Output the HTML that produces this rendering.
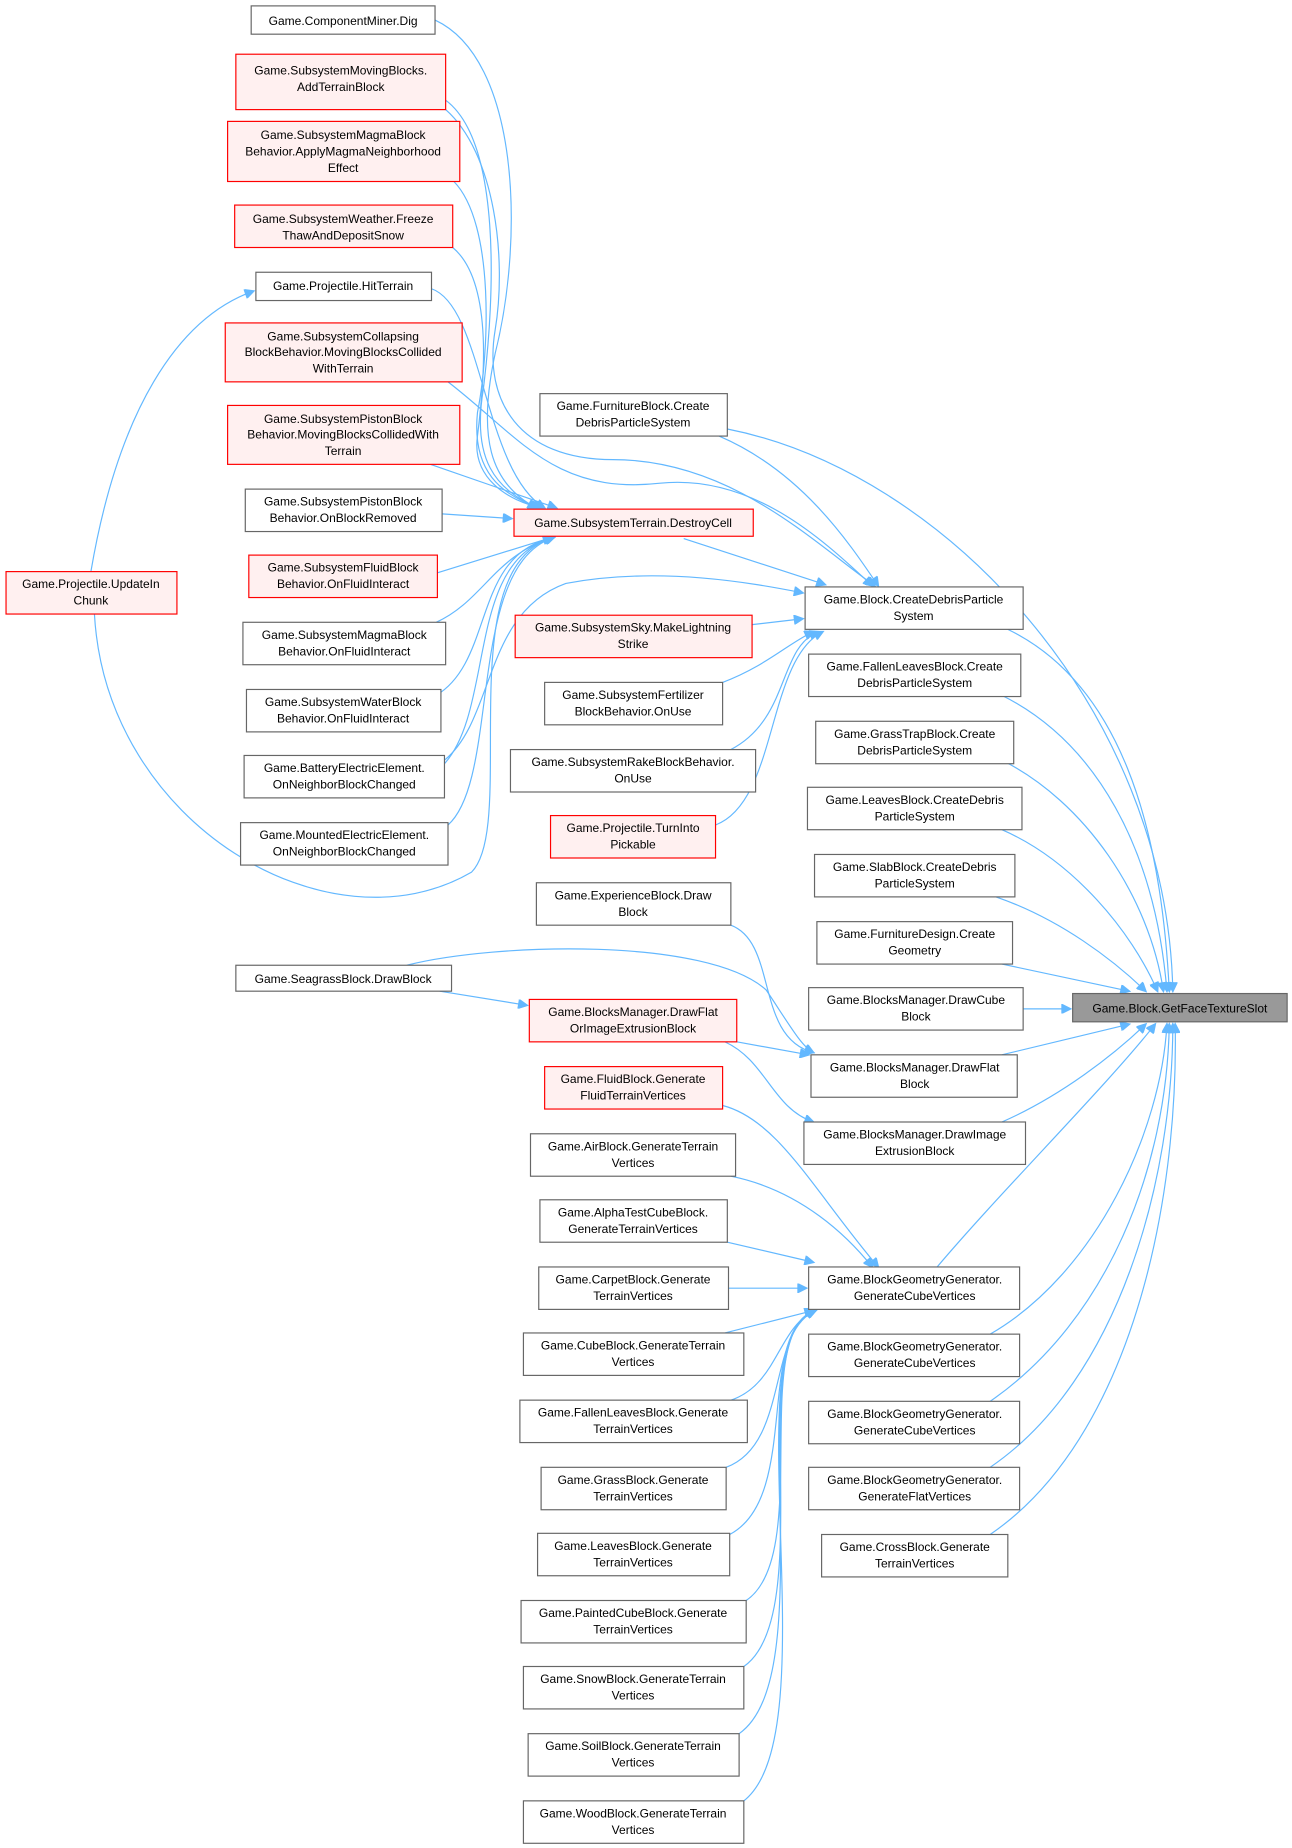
<!DOCTYPE html>
<html><head><meta charset="utf-8"><style>
html,body{margin:0;padding:0;background:#fff;}
svg{display:block;}
text{font-family:"Liberation Sans",sans-serif;font-size:10.2px;fill:#000;text-anchor:middle;}
.g{fill:#fff;stroke:#666;stroke-width:1;}
.r{fill:#fff0f0;stroke:#f00;stroke-width:1;}
.t{fill:#999;stroke:#666;stroke-width:1;}
path.e{fill:none;stroke:#63b8ff;stroke-width:1;}
</style></head><body>
<svg width="1292" height="1848" viewBox="0 0 1096 1568" xmlns="http://www.w3.org/2000/svg">
<defs><marker id="a" viewBox="0 0 10 10" refX="9" refY="5" markerWidth="10" markerHeight="8" markerUnits="userSpaceOnUse" orient="auto"><path d="M0,0 L10,5 L0,10 z" fill="#63b8ff" stroke="#63b8ff"/></marker></defs>
<g marker-end="url(#a)">
<!-- to target -->
<path class="e" d="M617,364 C800,400 990,600 995,841"/>
<path class="e" d="M855,534 C950,580 985,700 992,841"/>
<path class="e" d="M850,590 C930,630 980,720 990,841"/>
<path class="e" d="M850,645 C920,680 975,760 987,841"/>
<path class="e" d="M850,704 C910,730 960,790 982,841"/>
<path class="e" d="M845,761 C900,780 945,815 972,841"/>
<path class="e" d="M850,818 L958,841"/>
<path class="e" d="M868,856 L908,856"/>
<path class="e" d="M850,895 L958,869"/>
<path class="e" d="M850,952 C900,930 945,895 972,869"/>
<path class="e" d="M795,1075 C850,1010 940,920 980,869"/>
<path class="e" d="M840,1132 C930,1080 985,960 990,869"/>
<path class="e" d="M840,1189 C940,1120 990,990 992,869"/>
<path class="e" d="M840,1245 C950,1170 995,1000 995,869"/>
<path class="e" d="M840,1302 C960,1220 1000,1020 997,869"/>
<!-- to CreateDebris -->
<path class="e" d="M610,370 C680,400 720,460 745,497"/>
<path class="e" d="M580,457 L700,496"/>
<path class="e" d="M380,324 C440,370 470,420 560,410 C640,402 700,460 740,497"/>
<path class="e" d="M378,93 C420,130 430,220 420,280 C410,340 440,390 520,390 C620,390 690,460 742,497"/>
<path class="e" d="M377,645 C420,610 410,520 480,495 C560,480 640,495 681,503"/>
<path class="e" d="M638,530 L681,525"/>
<path class="e" d="M613,579 C650,565 670,545 690,536"/>
<path class="e" d="M620,636 C670,610 660,550 694,536"/>
<path class="e" d="M607,700 C660,680 650,560 698,536"/>
<!-- to DestroyCell -->
<path class="e" d="M369,17 C440,50 445,200 420,300 C405,370 415,410 455,431"/>
<path class="e" d="M378,85 C425,120 420,250 410,330 C400,390 420,415 456,431"/>
<path class="e" d="M385,154 C420,190 415,300 405,350 C400,400 425,420 458,431"/>
<path class="e" d="M384,210 C420,240 410,330 405,370 C400,405 430,425 460,431"/>
<path class="e" d="M366,245 C410,260 410,400 462,431"/>
<path class="e" d="M365,394 L472,431"/>
<path class="e" d="M375,436 L434,440"/>
<path class="e" d="M371,486 L468,456"/>
<path class="e" d="M370,528 C410,510 420,470 470,456"/>
<path class="e" d="M370,590 C420,560 400,470 470,456"/>
<path class="e" d="M377,648 C420,600 395,475 470,456"/>
<path class="e" d="M380,700 C425,660 395,480 470,456"/>
<path class="e" d="M80,521 C90,700 280,810 400,740 C440,700 380,480 470,456"/>
<path class="e" d="M77,485 C100,350 150,270 215,247"/>
<!-- draw block region -->
<path class="e" d="M373,841 L447,853"/>
<path class="e" d="M345,819 C420,800 600,795 650,840 C670,870 680,888 690,893"/>
<path class="e" d="M620,785 C660,800 640,880 690,893"/>
<path class="e" d="M625,884 L686,895"/>
<path class="e" d="M615,884 C650,900 655,940 690,952"/>
<!-- to GenerateCube1 -->
<path class="e" d="M613,938 C660,950 690,1010 745,1075"/>
<path class="e" d="M620,998 C680,1010 720,1050 740,1075"/>
<path class="e" d="M617,1054 L690,1071"/>
<path class="e" d="M618,1093 L684,1093"/>
<path class="e" d="M615,1131 L690,1112"/>
<path class="e" d="M620,1188 C660,1175 660,1125 692,1112"/>
<path class="e" d="M616,1245 C670,1225 650,1130 692,1112"/>
<path class="e" d="M619,1302 C680,1270 640,1130 692,1112"/>
<path class="e" d="M633,1358 C690,1320 635,1130 692,1112"/>
<path class="e" d="M631,1414 C695,1370 630,1130 692,1112"/>
<path class="e" d="M627,1471 C700,1420 625,1130 692,1112"/>
<path class="e" d="M631,1528 C705,1470 620,1130 692,1112"/>
</g>
<!-- nodes -->
<g>
<rect class="g" x="213" y="5" width="156" height="24"/><text x="291" y="21">Game.ComponentMiner.Dig</text>
<rect class="r" x="200" y="46" width="178" height="47"/><text x="289" y="63">Game.SubsystemMovingBlocks.</text><text x="289" y="77">AddTerrainBlock</text>
<rect class="r" x="193" y="103" width="197" height="51"/><text x="291" y="118">Game.SubsystemMagmaBlock</text><text x="291" y="132">Behavior.ApplyMagmaNeighborhood</text><text x="291" y="146">Effect</text>
<rect class="r" x="199" y="174" width="185" height="36"/><text x="291" y="189">Game.SubsystemWeather.Freeze</text><text x="291" y="203">ThawAndDepositSnow</text>
<rect class="g" x="217" y="231" width="149" height="24"/><text x="291" y="246">Game.Projectile.HitTerrain</text>
<rect class="r" x="191" y="274" width="201" height="50"/><text x="291" y="289">Game.SubsystemCollapsing</text><text x="291" y="302">BlockBehavior.MovingBlocksCollided</text><text x="291" y="316">WithTerrain</text>
<rect class="r" x="193" y="344" width="197" height="50"/><text x="291" y="359">Game.SubsystemPistonBlock</text><text x="291" y="372">Behavior.MovingBlocksCollidedWith</text><text x="291" y="386">Terrain</text>
<rect class="g" x="208" y="415" width="167" height="36"/><text x="291" y="429">Game.SubsystemPistonBlock</text><text x="291" y="443">Behavior.OnBlockRemoved</text>
<rect class="r" x="211" y="471" width="160" height="36"/><text x="291" y="485">Game.SubsystemFluidBlock</text><text x="291" y="499">Behavior.OnFluidInteract</text>
<rect class="g" x="206" y="528" width="172" height="36"/><text x="292" y="542">Game.SubsystemMagmaBlock</text><text x="292" y="556">Behavior.OnFluidInteract</text>
<rect class="g" x="209" y="585" width="165" height="36"/><text x="291" y="599">Game.SubsystemWaterBlock</text><text x="291" y="613">Behavior.OnFluidInteract</text>
<rect class="g" x="207" y="641" width="170" height="36"/><text x="292" y="655">Game.BatteryElectricElement.</text><text x="292" y="669">OnNeighborBlockChanged</text>
<rect class="g" x="204" y="698" width="176" height="36"/><text x="292" y="712">Game.MountedElectricElement.</text><text x="292" y="726">OnNeighborBlockChanged</text>
<rect class="r" x="5" y="485" width="145" height="36"/><text x="77" y="499">Game.Projectile.UpdateIn</text><text x="77" y="513">Chunk</text>
<rect class="g" x="200" y="819" width="183" height="22"/><text x="291" y="834">Game.SeagrassBlock.DrawBlock</text>

<rect class="r" x="436" y="432" width="203" height="23"/><text x="537" y="447">Game.SubsystemTerrain.DestroyCell</text>
<rect class="g" x="458" y="334" width="159" height="36"/><text x="537" y="348">Game.FurnitureBlock.Create</text><text x="537" y="362">DebrisParticleSystem</text>
<rect class="r" x="437" y="522" width="201" height="36"/><text x="537" y="536">Game.SubsystemSky.MakeLightning</text><text x="537" y="550">Strike</text>
<rect class="g" x="462" y="579" width="151" height="36"/><text x="537" y="593">Game.SubsystemFertilizer</text><text x="537" y="607">BlockBehavior.OnUse</text>
<rect class="g" x="433" y="636" width="208" height="36"/><text x="537" y="650">Game.SubsystemRakeBlockBehavior.</text><text x="537" y="664">OnUse</text>
<rect class="r" x="467" y="692" width="140" height="36"/><text x="537" y="706">Game.Projectile.TurnInto</text><text x="537" y="720">Pickable</text>
<rect class="g" x="455" y="749" width="165" height="36"/><text x="537" y="763">Game.ExperienceBlock.Draw</text><text x="537" y="777">Block</text>
<rect class="r" x="449" y="848" width="176" height="36"/><text x="537" y="862">Game.BlocksManager.DrawFlat</text><text x="537" y="876">OrImageExtrusionBlock</text>
<rect class="r" x="462" y="905" width="151" height="36"/><text x="537" y="919">Game.FluidBlock.Generate</text><text x="537" y="933">FluidTerrainVertices</text>
<rect class="g" x="450" y="962" width="174" height="36"/><text x="537" y="976">Game.AirBlock.GenerateTerrain</text><text x="537" y="990">Vertices</text>
<rect class="g" x="458" y="1018" width="159" height="36"/><text x="537" y="1032">Game.AlphaTestCubeBlock.</text><text x="537" y="1046">GenerateTerrainVertices</text>
<rect class="g" x="457" y="1075" width="161" height="36"/><text x="537" y="1089">Game.CarpetBlock.Generate</text><text x="537" y="1103">TerrainVertices</text>
<rect class="g" x="444" y="1131" width="187" height="36"/><text x="537" y="1145">Game.CubeBlock.GenerateTerrain</text><text x="537" y="1159">Vertices</text>
<rect class="g" x="441" y="1188" width="193" height="36"/><text x="537" y="1202">Game.FallenLeavesBlock.Generate</text><text x="537" y="1216">TerrainVertices</text>
<rect class="g" x="459" y="1245" width="157" height="36"/><text x="537" y="1259">Game.GrassBlock.Generate</text><text x="537" y="1273">TerrainVertices</text>
<rect class="g" x="456" y="1301" width="163" height="36"/><text x="537" y="1315">Game.LeavesBlock.Generate</text><text x="537" y="1329">TerrainVertices</text>
<rect class="g" x="442" y="1358" width="191" height="36"/><text x="537" y="1372">Game.PaintedCubeBlock.Generate</text><text x="537" y="1386">TerrainVertices</text>
<rect class="g" x="444" y="1414" width="187" height="36"/><text x="537" y="1428">Game.SnowBlock.GenerateTerrain</text><text x="537" y="1442">Vertices</text>
<rect class="g" x="448" y="1471" width="179" height="36"/><text x="537" y="1485">Game.SoilBlock.GenerateTerrain</text><text x="537" y="1499">Vertices</text>
<rect class="g" x="444" y="1528" width="187" height="36"/><text x="537" y="1542">Game.WoodBlock.GenerateTerrain</text><text x="537" y="1556">Vertices</text>

<rect class="g" x="683" y="498" width="185" height="36"/><text x="775" y="512">Game.Block.CreateDebrisParticle</text><text x="775" y="526">System</text>
<rect class="g" x="686" y="555" width="180" height="36"/><text x="776" y="569">Game.FallenLeavesBlock.Create</text><text x="776" y="583">DebrisParticleSystem</text>
<rect class="g" x="692" y="612" width="168" height="36"/><text x="776" y="626">Game.GrassTrapBlock.Create</text><text x="776" y="640">DebrisParticleSystem</text>
<rect class="g" x="685" y="668" width="182" height="36"/><text x="776" y="682">Game.LeavesBlock.CreateDebris</text><text x="776" y="696">ParticleSystem</text>
<rect class="g" x="691" y="725" width="170" height="36"/><text x="776" y="739">Game.SlabBlock.CreateDebris</text><text x="776" y="753">ParticleSystem</text>
<rect class="g" x="693" y="782" width="166" height="36"/><text x="776" y="796">Game.FurnitureDesign.Create</text><text x="776" y="810">Geometry</text>
<rect class="g" x="686" y="838" width="182" height="36"/><text x="777" y="852">Game.BlocksManager.DrawCube</text><text x="777" y="866">Block</text>
<rect class="g" x="688" y="895" width="175" height="36"/><text x="776" y="909">Game.BlocksManager.DrawFlat</text><text x="776" y="923">Block</text>
<rect class="g" x="682" y="952" width="188" height="36"/><text x="776" y="966">Game.BlocksManager.DrawImage</text><text x="776" y="980">ExtrusionBlock</text>
<rect class="g" x="686" y="1075" width="179" height="36"/><text x="776" y="1089">Game.BlockGeometryGenerator.</text><text x="776" y="1103">GenerateCubeVertices</text>
<rect class="g" x="686" y="1132" width="179" height="36"/><text x="776" y="1146">Game.BlockGeometryGenerator.</text><text x="776" y="1160">GenerateCubeVertices</text>
<rect class="g" x="686" y="1189" width="179" height="36"/><text x="776" y="1203">Game.BlockGeometryGenerator.</text><text x="776" y="1217">GenerateCubeVertices</text>
<rect class="g" x="686" y="1245" width="179" height="36"/><text x="776" y="1259">Game.BlockGeometryGenerator.</text><text x="776" y="1273">GenerateFlatVertices</text>
<rect class="g" x="697" y="1302" width="158" height="36"/><text x="776" y="1316">Game.CrossBlock.Generate</text><text x="776" y="1330">TerrainVertices</text>

<rect class="t" x="910" y="843" width="182" height="24"/><text x="1001" y="859">Game.Block.GetFaceTextureSlot</text>
</g>
</svg>
</body></html>
